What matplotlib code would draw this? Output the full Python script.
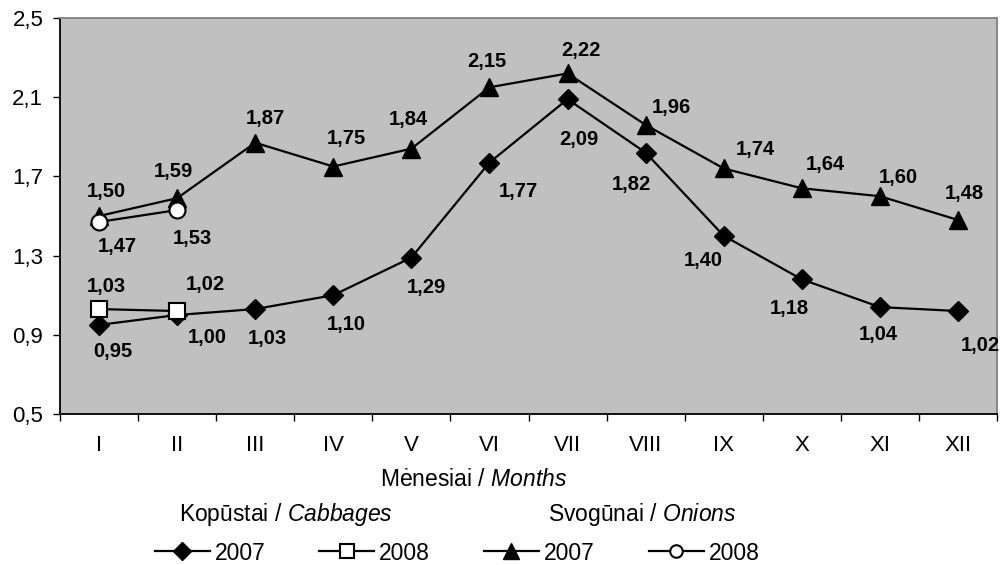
import matplotlib
matplotlib.use("Agg")
import matplotlib.pyplot as plt
from matplotlib.lines import Line2D

plt.rcParams['font.family'] = ['Liberation Sans', 'DejaVu Sans']
plt.rcParams['mathtext.fontset'] = 'custom'
plt.rcParams['mathtext.rm'] = 'Liberation Sans'
plt.rcParams['mathtext.it'] = 'Liberation Sans:italic'

months = ["I", "II", "III", "IV", "V", "VI", "VII", "VIII", "IX", "X", "XI", "XII"]
cabbage_2007 = [0.95, 1.00, 1.03, 1.10, 1.29, 1.77, 2.09, 1.82, 1.40, 1.18, 1.04, 1.02]
cabbage_2008 = [1.03, 1.02]
onion_2007 = [1.50, 1.59, 1.87, 1.75, 1.84, 2.15, 2.22, 1.96, 1.74, 1.64, 1.60, 1.48]
onion_2008 = [1.47, 1.53]
y_ticks = [0.5, 0.9, 1.3, 1.7, 2.1, 2.5]

# label offsets in pixels (dx, dy with dy downward)
off_c07 = [(14, 27), (30, 23), (12, 29), (13, 29), (15, 30), (29, 29), (11, 40),
           (-14, 32), (-20, 25), (-12, 29), (-2, 27), (22, 34)]
off_o07 = [(7, -25), (-4, -27), (10, -24), (13, -28), (-3, -29), (-3, -26), (13, -23),
           (26, -17), (32, -19), (24, -24), (18, -19), (6, -26)]
off_c08 = [(7, -23), (28, -27)]
off_o08 = [(18, 25), (15, 28)]

fig = plt.figure(figsize=(10.05, 5.65), dpi=100)
ax = fig.add_axes([60 / 1005, 1 - 414 / 565, (997 - 60) / 1005, (414 - 18) / 565])
ax.set_facecolor('#C0C0C0')

x12 = list(range(len(months)))
x2 = list(range(len(cabbage_2008)))

ax.plot(x12, cabbage_2007, color='black', lw=1.6, marker='D', ms=10,
        mfc='black', mec='black', zorder=3)
ax.plot(x2, cabbage_2008, color='black', lw=1.6, marker='s', ms=11.5,
        mfc='white', mec='black', mew=1.5, zorder=4)
ax.plot(x12, onion_2007, color='black', lw=1.6, marker='^', ms=12.5,
        mfc='black', mec='black', zorder=3)
ax.plot(x2, onion_2008, color='black', lw=1.6, marker='o', ms=11.5,
        mfc='white', mec='black', mew=1.5, zorder=4)

def fmt(v):
    return f"{v:.2f}".replace('.', ',')

for vals, offs in [(cabbage_2007, off_c07), (onion_2007, off_o07),
                   (cabbage_2008, off_c08), (onion_2008, off_o08)]:
    for i, (v, (dx, dy)) in enumerate(zip(vals, offs)):
        ax.annotate(fmt(v), (i, v), xytext=(dx, -dy), textcoords='offset pixels',
                    ha='center', va='center', fontsize=14.5, fontweight='bold',
                    zorder=5, annotation_clip=False)

ax.set_xlim(-0.5, len(months) - 0.5)
ax.set_ylim(0.5, 2.5)
ax.set_yticks(y_ticks)
ax.set_yticklabels([f"{t:.1f}".replace('.', ',') for t in y_ticks], fontsize=16)
ax.set_xticks([i - 0.5 for i in range(len(months) + 1)])
ax.set_xticklabels([])
ax.set_xticks(x12, minor=True)
ax.set_xticklabels(months, minor=True, fontsize=16)
ax.tick_params(axis='x', which='major', length=5, width=1, direction='out')
ax.tick_params(axis='x', which='minor', length=0, pad=15)
ax.tick_params(axis='y', length=5, width=1, direction='out', pad=7)

ax.spines['left'].set_color('black')
ax.spines['bottom'].set_color('black')
ax.spines['top'].set_color('#808080')
ax.spines['right'].set_color('#808080')
for s in ax.spines.values():
    s.set_linewidth(1.3)

fig.text(474 / 1005, 1 - 479 / 565, r"Mėnesiai / $\mathit{Months}$", ha='center',
         va='center', fontsize=16.5)
fig.text(286 / 1005, 1 - 514 / 565, r"Kopūstai / $\mathit{Cabbages}$", ha='center',
         va='center', fontsize=16.5)
fig.text(642 / 1005, 1 - 514 / 565, r"Svogūnai / $\mathit{Onions}$", ha='center',
         va='center', fontsize=16.5)

handles = [
    Line2D([], [], color='black', lw=1.6, marker='D', ms=9, mfc='black'),
    Line2D([], [], color='black', lw=1.6, marker='s', ms=10.5, mfc='white', mew=1.5),
    Line2D([], [], color='black', lw=1.6, marker='^', ms=11, mfc='black'),
    Line2D([], [], color='black', lw=1.6, marker='o', ms=9, mfc='white', mew=1.5),
]
labels = ["2007", "2008", "2007", "2008"]
fig.legend(handles, labels, loc='center', bbox_to_anchor=(457 / 1005, 1 - 553 / 565),
           ncol=4, frameon=False, fontsize=16.5, handlelength=2.4, handletextpad=0.22,
           columnspacing=2.35, borderpad=0)

fig.savefig("out.png", dpi=100)
